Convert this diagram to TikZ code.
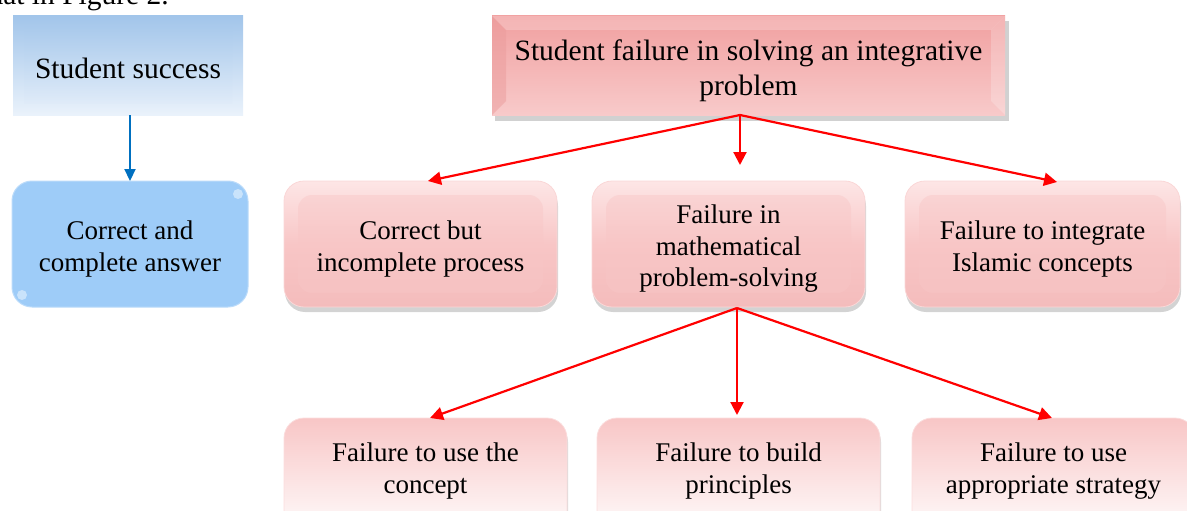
\documentclass[tikz,border=0pt]{standalone}
\usepackage{fontspec}
\setmainfont{Liberation Serif}
\usetikzlibrary{arrows.meta,shadows}
\definecolor{redarrow}{RGB}{255,0,0}
\definecolor{bluearrow}{RGB}{0,112,192}
\definecolor{pinkbody}{RGB}{248,198,198}
\definecolor{pinktop}{RGB}{253,230,230}
\definecolor{pinkdark}{RGB}{244,188,188}
\definecolor{redtop}{RGB}{241,160,160}
\definecolor{redbot}{RGB}{248,202,202}
\definecolor{bluetop}{RGB}{162,197,234}
\definecolor{bluebot}{RGB}{234,242,251}
\definecolor{bluebox}{RGB}{158,204,248}
\tikzset{
  txt/.style={font=\fontsize{27}{31.5}\selectfont, align=center, text=black},
  bigtxt/.style={font=\fontsize{29.5}{35}\selectfont, align=center, text=black},
  midbox/.style={rounded corners=20pt, draw=pinkbody!70!white, line width=0.8pt,
    top color=pinktop, bottom color=pinkdark, middle color=pinkbody,
    drop shadow={shadow xshift=1pt, shadow yshift=-5pt, opacity=0.35}},
  midin/.style={rounded corners=14pt, fill=pinkbody, opacity=0.45},
  lowbox/.style={rounded corners=20pt, draw=pinkbody!60!white, line width=0.8pt,
    top color=pinkbody, bottom color=white,
    drop shadow={shadow xshift=1pt, shadow yshift=-4pt, opacity=0.3}},
  redlink/.style={draw=redarrow, line width=2.2pt, -{Triangle[length=13pt,width=13pt]}},
  bluelink/.style={draw=bluearrow, line width=2.2pt, -{Triangle[length=12pt,width=11pt]}},
}
\begin{document}
\begin{tikzpicture}[x=1pt,y=-1pt]
\useasboundingbox (0,0) rectangle (1187,511);
\clip (0,0) rectangle (1187,511);

% cut-off line of running text
\node[bigtxt, anchor=base east, inner sep=0] (runtext) at (169,5) {hat in Figure 2.};

% Student success
\shade[top color=bluetop, bottom color=bluebot] (13,16) rectangle (243,115);
\shade[top color=bluetop!92!white, bottom color=bluebot!85!bluetop, opacity=0.6] (24,27) rectangle (232,104);
\node[bigtxt, inner sep=0] (succ) at (128,68) {Student success};
\coordinate (succfoot) at (130,115);

% Correct and complete answer
\fill[bluebox, draw=bluebox!70!white, line width=1pt, rounded corners=20pt] (12,181) rectangle (248,307);
\fill[white, opacity=0.45] (238,194) circle (5pt);
\fill[white, opacity=0.45] (22,295) circle (5pt);
\node[txt, inner sep=0] (corr) at (130,249) {Correct and\\complete answer};
\coordinate (corrtop) at (130,181);

% Top red box
\fill[black, opacity=0.18] (495,21) rectangle (1009,121);
\shade[top color=redtop, bottom color=redbot] (492,16) rectangle (1005,115);
\fill[redtop!70!black!8!redtop, opacity=0.5] (492,16) -- (506,30) -- (506,101) -- (492,115) -- cycle;
\fill[white, opacity=0.22] (1005,16) -- (991,30) -- (991,101) -- (1005,115) -- cycle;
\fill[white, opacity=0.22] (492,16) -- (506,30) -- (991,30) -- (1005,16) -- cycle;
\node[bigtxt, inner sep=0] (top) at (748.5,70.5) {Student failure in solving an integrative\\problem};

% Middle row
\path[midbox] (284,181) rectangle (557,307);
\path[midin] (298,195) rectangle (543,293);
\node[txt, inner sep=0] (m1) at (420.5,249) {Correct but\\incomplete process};

\path[midbox] (592,181) rectangle (865,307);
\path[midin] (606,195) rectangle (851,293);
\node[txt, inner sep=0] (m2) at (728.5,249) {Failure in\\mathematical\\problem-solving};

\path[midbox] (905,181) rectangle (1180,307);
\path[midin] (919,195) rectangle (1166,293);
\node[txt, inner sep=0] (m3) at (1042.5,249) {Failure to integrate\\Islamic concepts};

% Bottom row
\path[lowbox] (284,418) rectangle (567,540);
\node[txt, inner sep=0] (b1) at (425.5,471) {Failure to use the\\concept};

\path[lowbox] (597,418) rectangle (880,540);
\node[txt, inner sep=0] (b2) at (738.5,471) {Failure to build\\principles};

\path[lowbox] (912,418) rectangle (1195,540);
\node[txt, inner sep=0] (b3) at (1053.5,471) {Failure to use\\appropriate strategy};

% connectors
\draw[bluelink] (succfoot) -- (corrtop);
\coordinate (topfoot) at (740,115);
\draw[redlink] (topfoot) -- (428,181);
\draw[redlink] (topfoot) -- (740,165);
\draw[redlink] (topfoot) -- (1057,182);
\coordinate (midfoot) at (737,308);
\draw[redlink] (midfoot) -- (430,418);
\draw[redlink] (midfoot) -- (737,415);
\draw[redlink] (midfoot) -- (1052,418);
\end{tikzpicture}
\end{document}
